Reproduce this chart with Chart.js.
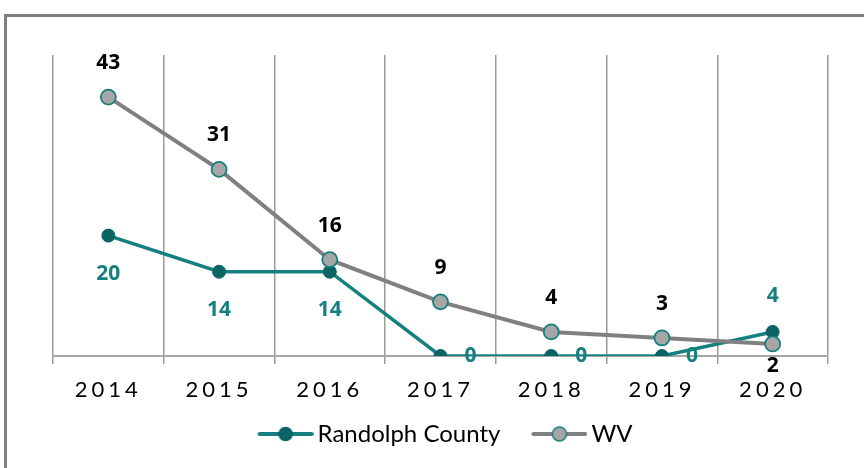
<!DOCTYPE html>
<html>
<head>
<meta charset="utf-8">
<script src="https://cdn.jsdelivr.net/npm/chart.js@4.4.0/dist/chart.umd.min.js"></script>
<style>
  html, body { margin: 0; padding: 0; background: #fff; overflow: hidden; }
  #frame {
    position: absolute; left: 4px; top: 14px;
    width: 2000px; height: 2000px;
    border: 3px solid #808080;
  }
  #wrap { position: absolute; left: 0; top: 0; width: 864px; height: 468px; }
</style>
</head>
<body>
<div id="frame"></div>
<div id="wrap"><canvas id="chart" width="864" height="468"></canvas></div>
<script>
'use strict';
/*------------------------------------*\
     Données
\*------------------------------------*/
var years = ['2014', '2015', '2016', '2017', '2018', '2019', '2020'];
var randolph = [20, 14, 14, 0, 0, 0, 4];
var wv = [43, 31, 16, 9, 4, 3, 2];

var TEAL = '#14807f';
var TEAL_DARK = '#0a6464';
var GREY = '#808080';

/*------------------------------------*\
     Pictos de légende (ligne + point)
\*------------------------------------*/
var BOX_W = 57;
function legendIcon(lineColor, fill, stroke, r) {
  var c = document.createElement('canvas');
  c.width = BOX_W + 16; // centré sur la boîte, partie visible calée à droite
  c.height = 18;
  var g = c.getContext('2d');
  var x0 = c.width - 56;
  g.strokeStyle = lineColor;
  g.lineWidth = 4;
  g.lineCap = 'round';
  g.beginPath();
  g.moveTo(x0 + 2, 9);
  g.lineTo(x0 + 54, 9);
  g.stroke();
  g.beginPath();
  g.arc(x0 + 28, 9, r, 0, Math.PI * 2);
  g.fillStyle = fill;
  g.fill();
  g.lineWidth = 1.5;
  g.strokeStyle = stroke;
  g.stroke();
  return c;
}
var icons = [
  legendIcon(TEAL, TEAL_DARK, TEAL_DARK, 6.5),
  legendIcon(GREY, '#a6a6a6', TEAL, 7)
];

/*------------------------------------*\
     Étiquettes de valeurs
\*------------------------------------*/
var valueLabels = {
  id: 'valueLabels',
  afterDatasetsDraw: function(chart) {
    var ctx = chart.ctx;
    ctx.save();
    ctx.letterSpacing = '0px';
    ctx.font = 'bold 21px "Open Sans"';
    ctx.textAlign = 'center';
    ctx.textBaseline = 'middle';
    chart.data.datasets.forEach(function(ds, di) {
      var meta = chart.getDatasetMeta(di);
      meta.data.forEach(function(pt, i) {
        var v = ds.data[i];
        var last = i === ds.data.length - 1;
        var x = pt.x, y = pt.y;
        if (di === 0) {
          ctx.fillStyle = TEAL;
          if (v === 0) { x += 30; }
          else if (last) { y -= 36; }
          else { y += 38; }
        } else {
          ctx.fillStyle = '#000';
          if (last) { y += 22; }
          else { y -= 34; }
        }
        ctx.fillText(String(v), x, y);
      });
    });
    ctx.restore();
    // espacement des lettres pour les années (dessinées après, z = 1)
    ctx.letterSpacing = '4px';
  },
  afterDraw: function(chart) {
    chart.ctx.letterSpacing = '0px';
  }
};

/*------------------------------------*\
     Graphique
\*------------------------------------*/
var chart = new Chart(document.getElementById('chart').getContext('2d'), {
  type: 'line',
  data: {
    labels: years,
    datasets: [{
      label: 'Randolph County',
      data: randolph,
      borderColor: TEAL,
      borderWidth: 3.5,
      pointBackgroundColor: TEAL_DARK,
      pointBorderColor: TEAL_DARK,
      pointBorderWidth: 1,
      pointRadius: 6.5,
      tension: 0,
      order: 1
    }, {
      label: 'WV',
      data: wv,
      borderColor: GREY,
      borderWidth: 4,
      pointBackgroundColor: '#a6a6a6',
      pointBorderColor: TEAL,
      pointBorderWidth: 1.8,
      pointRadius: 7.5,
      tension: 0,
      order: 0
    }]
  },
  options: {
    responsive: false,
    animation: false,
    layout: { padding: { left: 53, right: 36, top: 55, bottom: 12 } },
    scales: {
      x: {
        offset: true,
        grid: {
          offset: true,
          color: '#9a9a9a',
          lineWidth: 1.5,
          tickLength: 8
        },
        border: { color: '#a6a6a6', width: 2 },
        ticks: {
          z: 1,
          autoSkip: false,
          maxRotation: 0,
          padding: 13,
          color: '#000',
          font: { family: 'Lato', size: 22 }
        },
        afterFit: function(scale) { scale.height = 44; }
      },
      y: {
        display: false,
        min: 0,
        max: 50
      }
    },
    plugins: {
      tooltip: { enabled: false },
      legend: {
        position: 'bottom',
        labels: {
          usePointStyle: true,
          pointStyleWidth: BOX_W,
          padding: 22,
          color: '#000',
          font: { family: 'Lato', size: 24 },
          sort: function(a, b) { return a.datasetIndex - b.datasetIndex; },
          generateLabels: function(ch) {
            var items = Chart.defaults.plugins.legend.labels.generateLabels(ch);
            items.forEach(function(it) { it.pointStyle = icons[it.datasetIndex]; });
            return items;
          }
        }
      }
    }
  },
  plugins: [valueLabels]
});
</script>
</body>
</html>
